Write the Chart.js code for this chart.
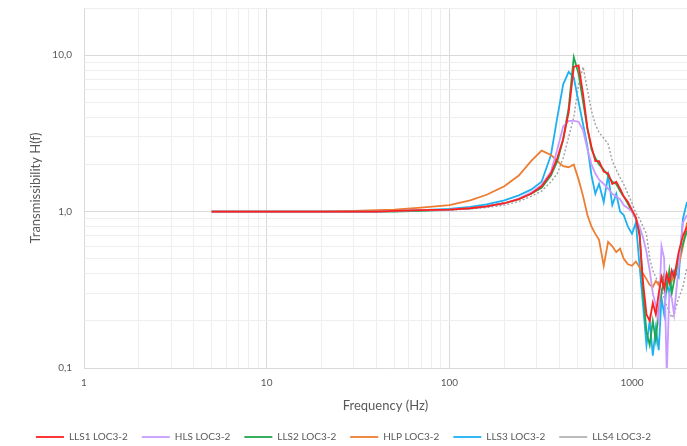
<!DOCTYPE html>
<html>
<head>
<meta charset="utf-8">
<script src="https://cdn.jsdelivr.net/npm/chart.js@4"></script>
<style>
  body { margin: 0; background: #fff; }
  #wrap { width: 687px; height: 446px; }
</style>
</head>
<body>
<div id="wrap"><canvas id="chart" width="687" height="446"></canvas></div>
<script>
// frequency points (Hz)
var freq = [5, 7, 10, 15, 20, 30, 40, 50, 70, 100,
  130, 160, 200, 240, 280, 320, 360, 390, 420, 450,
  480, 510, 540, 570, 600, 630, 660, 700, 740, 780,
  820, 860, 900, 950, 1000, 1050, 1100, 1150, 1200, 1250,
  1300, 1350, 1400, 1450, 1500, 1550, 1600, 1650, 1700, 1800,
  1900, 2000];

var lls1 = [1.0, 1.0, 1.0, 1.0, 1.0, 1.0, 1.0, 1.01, 1.02, 1.03,
  1.05, 1.08, 1.13, 1.2, 1.3, 1.45, 1.75, 2.2, 2.9, 4.3,
  8.4, 8.6, 5.6, 3.4, 2.6, 2.1, 2.1, 1.8, 1.75, 1.5,
  1.55, 1.4, 1.25, 1.15, 1.02, 0.92, 0.7, 0.35, 0.22, 0.2,
  0.26, 0.22, 0.3, 0.38, 0.32, 0.4, 0.35, 0.42, 0.38, 0.55,
  0.7, 0.8];

var hls = [1.0, 1.0, 1.0, 1.0, 1.0, 1.0, 1.0, 1.01, 1.02, 1.03,
  1.05, 1.08, 1.13, 1.21, 1.32, 1.48, 1.8, 2.5, 3.5, 3.8,
  3.8, 3.75, 3.3, 2.5, 2.0, 1.75, 1.6, 1.5, 1.4, 1.3,
  1.25, 1.2, 1.1, 1.05, 1.0, 0.9, 0.8, 0.68, 0.55, 0.42,
  0.3, 0.25, 0.2, 0.6, 0.5, 0.09, 0.3, 0.28, 0.22, 0.45,
  0.85, 0.95];

var lls2 = [1.0, 1.0, 1.0, 1.0, 1.0, 1.0, 1.0, 1.0, 1.01, 1.03,
  1.05, 1.08, 1.13, 1.2, 1.3, 1.42, 1.7, 2.1, 2.9, 4.6,
  9.7, 7.6, 5.0, 3.4, 2.5, 2.2, 2.0, 1.85, 1.7, 1.55,
  1.5, 1.35, 1.25, 1.12, 1.0, 0.9, 0.75, 0.3, 0.17, 0.14,
  0.2, 0.15, 0.24, 0.3, 0.38, 0.32, 0.42, 0.3, 0.36, 0.5,
  0.62, 0.75];

var hlp = [1.0, 1.0, 1.0, 1.0, 1.0, 1.01, 1.02, 1.03, 1.06, 1.1,
  1.18, 1.28, 1.45, 1.7, 2.1, 2.45, 2.3, 2.1, 1.95, 1.92,
  2.0, 1.6, 1.25, 0.95, 0.8, 0.72, 0.66, 0.45, 0.64, 0.6,
  0.55, 0.58, 0.5, 0.46, 0.45, 0.48, 0.44, 0.4, 0.37, 0.34,
  0.33, 0.36, 0.34, 0.36, 0.4, 0.37, 0.38, 0.36, 0.4, 0.45,
  0.6, 0.85];

var lls3 = [1.0, 1.0, 1.0, 1.0, 1.0, 1.0, 1.0, 1.01, 1.02, 1.04,
  1.07, 1.11, 1.18, 1.27, 1.38, 1.55, 2.3, 4.0, 6.5, 7.8,
  7.2, 5.0, 3.6, 2.6, 1.7, 1.3, 1.5, 1.15, 1.7, 1.1,
  1.3, 1.0, 0.95, 0.8, 0.72, 0.85, 0.45, 0.25, 0.14, 0.2,
  0.12, 0.18, 0.13, 0.28, 0.22, 0.35, 0.3, 0.38, 0.42, 0.38,
  0.9, 1.15];

var lls4 = [1.0, 1.0, 1.0, 1.0, 1.0, 1.0, 1.0, 1.0, 1.01, 1.02,
  1.04, 1.06, 1.1, 1.16, 1.25, 1.35, 1.55, 1.75, 2.2, 3.0,
  4.0, 6.5, 8.4, 6.0, 4.4, 3.6, 3.2, 2.95, 2.7, 2.1,
  1.85, 1.65, 1.5, 1.3, 1.13, 0.98, 0.9, 0.8, 0.72, 0.5,
  0.42, 0.38, 0.35, 0.32, 0.28, 0.25, 0.23, 0.21, 0.22, 0.28,
  0.33, 0.44];

var xTickValues = [1, 10, 100, 1000];
var xTickLabels = ['1', '10', '100', '1000'];
var yTickValues = [0.1, 1, 10];
var yTickLabels = ['0,1', '1,0', '10,0'];

var FONT = 'Lato, "Liberation Sans", sans-serif';
var TEXT = '#595959';

function pairs(values) {
  return freq.map(function(f, i) { return {x: f, y: values[i]}; });
}

// gridline positions: 1..9 per decade
function logGrid(min, max) {
  var out = [];
  for (var e = Math.floor(Math.log10(min)); Math.pow(10, e) <= max; e++) {
    for (var m = 1; m <= 9; m++) {
      var v = Number((m * Math.pow(10, e)).toPrecision(6));
      if (v >= min && v <= max) out.push({value: v});
    }
  }
  return out;
}

function isDecade(v) {
  var l = Math.log10(v);
  return Math.abs(l - Math.round(l)) < 1e-9;
}

function labelFor(values, labels, v) {
  for (var i = 0; i < values.length; i++) {
    if (Math.abs(values[i] - v) < 1e-9) return labels[i];
  }
  return '';
}

function gridColor(ctx) {
  return ctx.tick && isDecade(ctx.tick.value) ? '#d9d9d9' : '#eeeeee';
}

function line(label, values, color, dash) {
  return {
    label: label,
    data: pairs(values),
    borderColor: color,
    backgroundColor: color,
    borderWidth: dash ? 1.4 : 1.8,
    borderDash: dash || [],
    pointRadius: 0,
    tension: 0
  };
}

new Chart(document.getElementById('chart').getContext('2d'), {
  type: 'line',
  data: {
    datasets: [
      line('LLS1 LOC3-2', lls1, '#FF2020'),
      line('HLS LOC3-2', hls, '#C99BFF'),
      line('LLS2 LOC3-2', lls2, '#20A84F'),
      line('HLP LOC3-2', hlp, '#ED7D31'),
      line('LLS3 LOC3-2', lls3, '#1EB0F0'),
      line('LLS4 LOC3-2', lls4, '#A0A0A0', [2, 2])
    ]
  },
  options: {
    responsive: false,
    animation: false,
    layout: { padding: { top: 8, right: 0, left: 0, bottom: -6 } },
    plugins: {
      tooltip: { enabled: false },
      legend: {
        position: 'bottom',
        labels: {
          usePointStyle: true,
          pointStyle: 'line',
          pointStyleWidth: 28,
          boxWidth: 28,
          padding: 14,
          color: TEXT,
          font: { family: FONT, size: 10 }
        }
      }
    },
    scales: {
      x: {
        type: 'logarithmic',
        min: 1,
        max: 2000,
        border: { display: false },
        grid: { color: gridColor, drawTicks: false },
        afterBuildTicks: function(scale) { scale.ticks = logGrid(1, 2000); },
        afterFit: function(scale) {
          scale.height = 50;
          scale.paddingLeft = 0;
          scale.paddingRight = 0;
        },
        ticks: {
          autoSkip: false,
          maxRotation: 0,
          padding: 9,
          color: TEXT,
          font: { family: FONT, size: 10 },
          callback: function(v) { return labelFor(xTickValues, xTickLabels, v); }
        },
        title: {
          display: true,
          text: 'Frequency (Hz)',
          color: TEXT,
          font: { family: FONT, size: 13 },
          padding: { top: 0, bottom: 4 }
        }
      },
      y: {
        type: 'logarithmic',
        min: 0.1,
        max: 20,
        border: { display: false },
        grid: { color: gridColor, drawTicks: false },
        afterBuildTicks: function(scale) { scale.ticks = logGrid(0.1, 20); },
        afterFit: function(scale) {
          scale.width = 84;
          scale.paddingTop = 0;
          scale.paddingBottom = 0;
        },
        ticks: {
          autoSkip: false,
          padding: 12,
          color: TEXT,
          font: { family: FONT, size: 10 },
          callback: function(v) { return labelFor(yTickValues, yTickLabels, v); }
        },
        title: {
          display: true,
          text: 'Transmissibility H(f)',
          color: TEXT,
          font: { family: FONT, size: 13 },
          padding: { top: 28, bottom: 0 }
        }
      }
    }
  }
});
</script>
</body>
</html>
